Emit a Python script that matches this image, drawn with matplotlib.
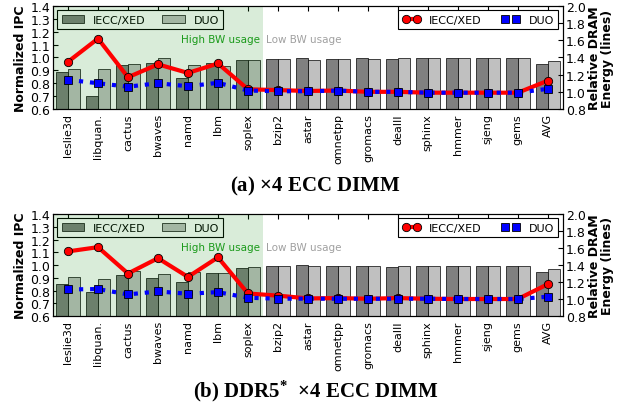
import numpy as np
import matplotlib
matplotlib.use("Agg")
import matplotlib.pyplot as plt

# benchmark names
benchmarks = ["leslie3d", "libquan.", "cactus", "bwaves", "namd", "lbm", "soplex",
              "bzip2", "astar", "omnetpp", "gromacs", "dealII", "sphinx", "hmmer",
              "sjeng", "gems", "AVG"]

# (a) x4 ECC DIMM
ipc_iecc_a = [0.89, 0.70, 0.94, 0.955, 0.84, 0.955, 0.98, 0.99, 0.995, 0.987, 0.995,
              0.987, 0.995, 0.995, 0.995, 0.995, 0.948]
ipc_duo_a = [0.912, 0.912, 0.951, 0.995, 0.94, 0.932, 0.984, 0.99, 0.984, 0.987, 0.99,
             0.995, 0.995, 0.995, 0.995, 0.995, 0.974]
energy_iecc_a = [1.35, 1.62, 1.17, 1.32, 1.22, 1.33, 1.03, 1.02, 1.01, 1.015, 1.0,
                 1.0, 0.99, 0.99, 0.99, 0.99, 1.13]
energy_duo_a = [1.14, 1.10, 1.06, 1.10, 1.065, 1.105, 1.015, 1.007, 1.007, 1.014, 1.0,
                1.0, 0.99, 0.99, 0.99, 0.99, 1.035]

# (b) DDR5* x4 ECC DIMM
ipc_iecc_b = [0.85, 0.785, 0.923, 0.897, 0.866, 0.939, 0.975, 0.991, 0.999, 0.996, 0.991,
              0.988, 0.996, 0.996, 0.996, 0.996, 0.949]
ipc_duo_b = [0.905, 0.894, 0.954, 0.931, 0.949, 0.939, 0.983, 0.991, 0.993, 0.99, 0.991,
             0.996, 0.996, 0.996, 0.996, 0.996, 0.967]
energy_iecc_b = [1.56, 1.61, 1.30, 1.48, 1.26, 1.49, 1.065, 1.04, 1.007, 1.011, 1.003,
                 1.011, 1.003, 1.0, 1.0, 1.0, 1.175]
energy_duo_b = [1.113, 1.117, 1.054, 1.089, 1.062, 1.081, 1.015, 1.004, 1.004, 1.003, 1.003,
                1.003, 1.003, 1.0, 1.0, 1.0, 1.027]

captions = [r"(a) $\times$4 ECC DIMM", r"(b) DDR5$^{*}$  $\times$4 ECC DIMM"]

plt.rcParams['font.family'] = ['DejaVu Sans']
plt.rcParams['xtick.direction'] = 'in'
plt.rcParams['ytick.direction'] = 'in'
plt.rcParams['xtick.top'] = True
plt.rcParams['mathtext.fontset'] = 'custom'
plt.rcParams['mathtext.rm'] = 'Liberation Serif:bold'
plt.rcParams['mathtext.it'] = 'Liberation Serif:bold'
plt.rcParams['mathtext.bf'] = 'Liberation Serif:bold'

fig = plt.figure(figsize=(6.31, 4.10), dpi=100)

panels = [
    (ipc_iecc_a, ipc_duo_a, energy_iecc_a, energy_duo_a, [0.084, 0.7317, 0.808, 0.2513], 0.545),
    (ipc_iecc_b, ipc_duo_b, energy_iecc_b, energy_duo_b, [0.084, 0.2268, 0.808, 0.2488], 0.045),
]

x = np.arange(len(benchmarks))
w = 0.4

for k, (iecc, duo, e_iecc, e_duo, rect, cap_y) in enumerate(panels):
    ax1 = fig.add_axes(rect)
    b1 = ax1.bar(x - w/2, iecc, w, color='#808080', edgecolor='black', linewidth=0.5, zorder=2)
    b2 = ax1.bar(x + w/2, duo, w, color='#c0c0c0', edgecolor='black', linewidth=0.5, zorder=2)
    ax1.set_ylim(0.6, 1.4)
    ax1.set_yticks(np.arange(0.6, 1.41, 0.1))
    ax1.set_yticklabels(["%.1f" % v for v in np.arange(0.6, 1.41, 0.1)], fontsize=9)
    ax1.set_xlim(-0.5, len(benchmarks) - 0.5)
    ax1.set_xticks(x)
    ax1.set_xticklabels(benchmarks, rotation=90, fontsize=8)
    ax1.set_ylabel("Normalized IPC", fontsize=9, fontweight='bold', labelpad=2)
    ax1.tick_params(axis='y', pad=2)
    ax1.tick_params(axis='x', pad=3)
    leg1 = ax1.legend([b1, b2], ["IECC/XED", "DUO"], loc='upper left', ncol=2, fontsize=8,
                      frameon=True, fancybox=False, edgecolor='black', framealpha=1,
                      borderaxespad=0.4, handlelength=2.0, columnspacing=1.5)
    leg1.get_frame().set_linewidth(0.8)
    # shade the high bandwidth benchmarks (drawn over bars and legend)
    ax1.axvspan(-0.5, 6.5, color='green', alpha=0.15, linewidth=0, zorder=6)
    ax1.text(6.4, 1.14, "High BW usage", color='#1a9a1a', fontsize=7.5, ha='right', va='center', zorder=7)
    ax1.text(6.6, 1.14, "Low BW usage", color='#a0a0a0', fontsize=7.5, ha='left', va='center', zorder=7)

    ax2 = ax1.twinx()
    ax2.plot(x, e_iecc, '-o', color='red', linewidth=3, markersize=6,
             markeredgecolor='black', markeredgewidth=0.6, label="IECC/XED")
    ax2.plot(x, e_duo, ':s', color='blue', linewidth=3, markersize=6,
             markeredgecolor='black', markeredgewidth=0.6, label="DUO")
    ax2.set_ylim(0.8, 2.0)
    ax2.set_yticks(np.arange(0.8, 2.01, 0.2))
    ax2.set_yticklabels(["%.1f" % v for v in np.arange(0.8, 2.01, 0.2)], fontsize=9)
    ax2.tick_params(axis='y', pad=2)
    ax2.set_ylabel("Relative DRAM\nEnergy (lines)", fontsize=9, fontweight='bold',
                   labelpad=2, linespacing=1.0)
    ax2.set_xlim(-0.5, len(benchmarks) - 0.5)
    leg2 = ax2.legend(loc='upper right', ncol=2, fontsize=8, numpoints=2, frameon=True,
                      fancybox=False, edgecolor='black', framealpha=1, borderaxespad=0.4,
                      handlelength=1.6, columnspacing=1.8)
    leg2.get_frame().set_linewidth(0.8)

    fig.text(0.5, cap_y, captions[k], fontsize=15, ha='center', va='center',
             family='Liberation Serif', fontweight='bold')

fig.savefig("out.png", dpi=100)
